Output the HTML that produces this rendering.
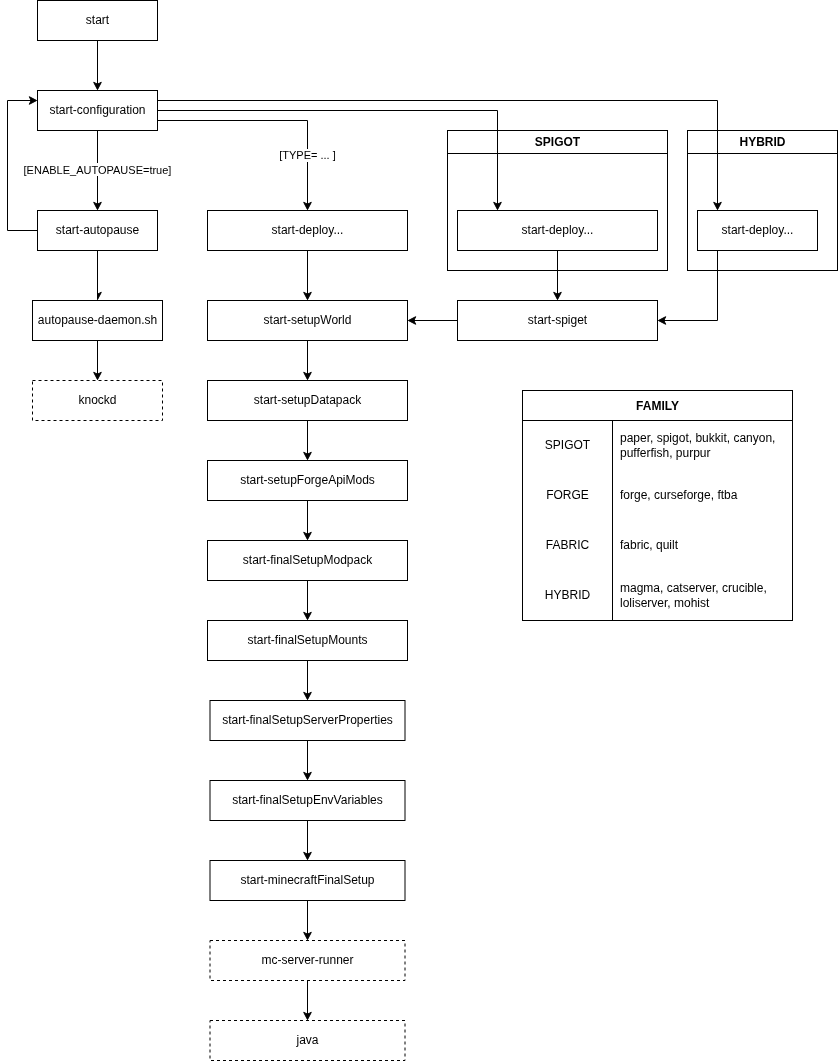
<!DOCTYPE html>
<html><head><meta charset="utf-8"><style>
html,body{margin:0;padding:0;background:#fff;width:838px;height:1061px;overflow:hidden}
svg{position:absolute;left:0;top:0;display:block;will-change:transform}
text{font-family:"Liberation Sans", sans-serif;font-size:12px;fill:#000}
</style></head><body>
<svg width="838" height="1061" viewBox="0 0 838 1061">
<defs><clipPath id="halfclip"><rect x="97" y="280" width="20" height="30"/></clipPath></defs>
<rect x="37.5" y="0.5" width="120.0" height="40.0" fill="#fff" stroke="#000"/>
<rect x="37.5" y="90.5" width="120.0" height="40.0" fill="#fff" stroke="#000"/>
<rect x="37.5" y="210.5" width="120.0" height="40.0" fill="#fff" stroke="#000"/>
<rect x="32.5" y="300.5" width="130.0" height="40.0" fill="#fff" stroke="#000"/>
<rect x="32.5" y="380.5" width="130.0" height="40.0" fill="#fff" stroke="#000" stroke-dasharray="3 3"/>
<rect x="207.5" y="210.5" width="200.0" height="40.0" fill="#fff" stroke="#000"/>
<rect x="207.5" y="300.5" width="200.0" height="40.0" fill="#fff" stroke="#000"/>
<rect x="207.5" y="380.5" width="200.0" height="40.0" fill="#fff" stroke="#000"/>
<rect x="207.5" y="460.5" width="200.0" height="40.0" fill="#fff" stroke="#000"/>
<rect x="207.5" y="540.5" width="200.0" height="40.0" fill="#fff" stroke="#000"/>
<rect x="207.5" y="620.5" width="200.0" height="40.0" fill="#fff" stroke="#000"/>
<rect x="210" y="700.5" width="195" height="40.0" fill="#fff" stroke="#000"/>
<rect x="210" y="780.5" width="195" height="40.0" fill="#fff" stroke="#000"/>
<rect x="210" y="860.5" width="195" height="40.0" fill="#fff" stroke="#000"/>
<rect x="210" y="940.5" width="195" height="40.0" fill="#fff" stroke="#000" stroke-dasharray="3 3"/>
<rect x="210" y="1020.5" width="195" height="40.0" fill="#fff" stroke="#000" stroke-dasharray="3 3"/>
<rect x="447.5" y="130.5" width="220.0" height="140.0" fill="#fff" stroke="#000"/>
<polyline points="447.5,153.5 667.5,153.5" fill="none" stroke="#000" stroke-miterlimit="10"/>
<rect x="687.5" y="130.5" width="150.0" height="140.0" fill="#fff" stroke="#000"/>
<polyline points="687.5,153.5 837.5,153.5" fill="none" stroke="#000" stroke-miterlimit="10"/>
<rect x="457.5" y="210.5" width="200.0" height="40.0" fill="#fff" stroke="#000"/>
<rect x="697.5" y="210.5" width="120.0" height="40.0" fill="#fff" stroke="#000"/>
<rect x="457.5" y="300.5" width="200.0" height="40.0" fill="#fff" stroke="#000"/>
<rect x="522.5" y="390.5" width="270.0" height="230.0" fill="#fff" stroke="#000"/>
<polyline points="522.5,420.5 792.5,420.5" fill="none" stroke="#000" stroke-miterlimit="10"/>
<polyline points="612.5,420.5 612.5,620.5" fill="none" stroke="#000" stroke-miterlimit="10"/>
<polyline points="97.5,40.5 97.5,88.9" fill="none" stroke="#000" stroke-miterlimit="10"/>
<path d="M97.500,89.600 L93.700,82.300 L97.500,84.125 L101.300,82.300 Z" fill="#000" stroke="#000" stroke-miterlimit="10"/>
<polyline points="97.5,130.5 97.5,208.9" fill="none" stroke="#000" stroke-miterlimit="10"/>
<path d="M97.500,209.600 L93.700,202.300 L97.500,204.125 L101.300,202.300 Z" fill="#000" stroke="#000" stroke-miterlimit="10"/>
<polyline points="37.5,230.5 7.5,230.5 7.5,100.5 35.9,100.5" fill="none" stroke="#000" stroke-miterlimit="10"/>
<path d="M36.600,100.500 L29.300,104.300 L31.125,100.500 L29.300,96.700 Z" fill="#000" stroke="#000" stroke-miterlimit="10"/>
<polyline points="97.5,250.5 97.5,298.9" fill="none" stroke="#000" stroke-miterlimit="10"/>
<path d="M97.500,299.600 L93.700,292.300 L97.500,294.125 L101.300,292.300 Z" fill="#000" stroke="#000" stroke-miterlimit="10" clip-path="url(#halfclip)"/>
<polyline points="97.5,340.5 97.5,378.9" fill="none" stroke="#000" stroke-miterlimit="10"/>
<path d="M97.500,379.600 L93.700,372.300 L97.500,374.125 L101.300,372.300 Z" fill="#000" stroke="#000" stroke-miterlimit="10"/>
<polyline points="157.5,100.5 717.5,100.5 717.5,208.9" fill="none" stroke="#000" stroke-miterlimit="10"/>
<path d="M717.500,209.600 L713.700,202.300 L717.500,204.125 L721.300,202.300 Z" fill="#000" stroke="#000" stroke-miterlimit="10"/>
<polyline points="157.5,110.5 497.5,110.5 497.5,208.9" fill="none" stroke="#000" stroke-miterlimit="10"/>
<path d="M497.500,209.600 L493.700,202.300 L497.500,204.125 L501.300,202.300 Z" fill="#000" stroke="#000" stroke-miterlimit="10"/>
<polyline points="157.5,120.5 307.5,120.5 307.5,208.9" fill="none" stroke="#000" stroke-miterlimit="10"/>
<path d="M307.500,209.600 L303.700,202.300 L307.500,204.125 L311.300,202.300 Z" fill="#000" stroke="#000" stroke-miterlimit="10"/>
<polyline points="307.5,250.5 307.5,298.9" fill="none" stroke="#000" stroke-miterlimit="10"/>
<path d="M307.500,299.600 L303.700,292.300 L307.500,294.125 L311.300,292.300 Z" fill="#000" stroke="#000" stroke-miterlimit="10"/>
<polyline points="557.5,250.5 557.5,298.9" fill="none" stroke="#000" stroke-miterlimit="10"/>
<path d="M557.500,299.600 L553.700,292.300 L557.500,294.125 L561.300,292.300 Z" fill="#000" stroke="#000" stroke-miterlimit="10"/>
<polyline points="717.5,250.5 717.5,320.5 659.1,320.5" fill="none" stroke="#000" stroke-miterlimit="10"/>
<path d="M658.400,320.500 L665.700,316.700 L663.875,320.500 L665.700,324.300 Z" fill="#000" stroke="#000" stroke-miterlimit="10"/>
<polyline points="457.5,320.5 409.1,320.5" fill="none" stroke="#000" stroke-miterlimit="10"/>
<path d="M408.400,320.500 L415.700,316.700 L413.875,320.500 L415.700,324.300 Z" fill="#000" stroke="#000" stroke-miterlimit="10"/>
<polyline points="307.5,340.5 307.5,378.9" fill="none" stroke="#000" stroke-miterlimit="10"/>
<path d="M307.500,379.600 L303.700,372.300 L307.500,374.125 L311.300,372.300 Z" fill="#000" stroke="#000" stroke-miterlimit="10"/>
<polyline points="307.5,420.5 307.5,458.9" fill="none" stroke="#000" stroke-miterlimit="10"/>
<path d="M307.500,459.600 L303.700,452.300 L307.500,454.125 L311.300,452.300 Z" fill="#000" stroke="#000" stroke-miterlimit="10"/>
<polyline points="307.5,500.5 307.5,538.9" fill="none" stroke="#000" stroke-miterlimit="10"/>
<path d="M307.500,539.600 L303.700,532.300 L307.500,534.125 L311.300,532.300 Z" fill="#000" stroke="#000" stroke-miterlimit="10"/>
<polyline points="307.5,580.5 307.5,618.9" fill="none" stroke="#000" stroke-miterlimit="10"/>
<path d="M307.500,619.600 L303.700,612.300 L307.500,614.125 L311.300,612.300 Z" fill="#000" stroke="#000" stroke-miterlimit="10"/>
<polyline points="307.5,660.5 307.5,698.9" fill="none" stroke="#000" stroke-miterlimit="10"/>
<path d="M307.500,699.600 L303.700,692.300 L307.500,694.125 L311.300,692.300 Z" fill="#000" stroke="#000" stroke-miterlimit="10"/>
<polyline points="307.5,740.5 307.5,778.9" fill="none" stroke="#000" stroke-miterlimit="10"/>
<path d="M307.500,779.600 L303.700,772.300 L307.500,774.125 L311.300,772.300 Z" fill="#000" stroke="#000" stroke-miterlimit="10"/>
<polyline points="307.5,820.5 307.5,858.9" fill="none" stroke="#000" stroke-miterlimit="10"/>
<path d="M307.500,859.600 L303.700,852.300 L307.500,854.125 L311.300,852.300 Z" fill="#000" stroke="#000" stroke-miterlimit="10"/>
<polyline points="307.5,900.5 307.5,938.9" fill="none" stroke="#000" stroke-miterlimit="10"/>
<path d="M307.500,939.600 L303.700,932.300 L307.500,934.125 L311.300,932.300 Z" fill="#000" stroke="#000" stroke-miterlimit="10"/>
<polyline points="307.5,980.5 307.5,1018.9" fill="none" stroke="#000" stroke-miterlimit="10"/>
<path d="M307.500,1019.600 L303.700,1012.300 L307.500,1014.125 L311.300,1012.300 Z" fill="#000" stroke="#000" stroke-miterlimit="10"/>
<rect x="23" y="163" width="149" height="13" fill="#fff"/>
<rect x="278" y="149" width="59" height="13" fill="#fff"/>
<text x="97.5" y="173.7" text-anchor="middle" style="font-size:11px">[ENABLE_AUTOPAUSE=true]</text>
<text x="307.5" y="158.7" text-anchor="middle" style="font-size:11px">[TYPE= ... ]</text>
<text x="97.5" y="23.5" text-anchor="middle">start</text>
<text x="97.5" y="113.5" text-anchor="middle">start-configuration</text>
<text x="97.5" y="233.5" text-anchor="middle">start-autopause</text>
<text x="97.5" y="323.5" text-anchor="middle">autopause-daemon.sh</text>
<text x="97.5" y="403.5" text-anchor="middle">knockd</text>
<text x="307.5" y="233.5" text-anchor="middle">start-deploy...</text>
<text x="307.5" y="323.5" text-anchor="middle">start-setupWorld</text>
<text x="307.5" y="403.5" text-anchor="middle">start-setupDatapack</text>
<text x="307.5" y="483.5" text-anchor="middle">start-setupForgeApiMods</text>
<text x="307.5" y="563.5" text-anchor="middle">start-finalSetupModpack</text>
<text x="307.5" y="643.5" text-anchor="middle">start-finalSetupMounts</text>
<text x="307.5" y="723.5" text-anchor="middle">start-finalSetupServerProperties</text>
<text x="307.5" y="803.5" text-anchor="middle">start-finalSetupEnvVariables</text>
<text x="307.5" y="883.5" text-anchor="middle">start-minecraftFinalSetup</text>
<text x="307.5" y="963.5" text-anchor="middle">mc-server-runner</text>
<text x="307.5" y="1043.5" text-anchor="middle">java</text>
<text x="557.5" y="146" text-anchor="middle" font-weight="bold">SPIGOT</text>
<text x="762.5" y="146" text-anchor="middle" font-weight="bold">HYBRID</text>
<text x="557.5" y="233.5" text-anchor="middle">start-deploy...</text>
<text x="757.5" y="233.5" text-anchor="middle">start-deploy...</text>
<text x="557.5" y="323.5" text-anchor="middle">start-spiget</text>
<text x="657.5" y="410" text-anchor="middle" font-weight="bold">FAMILY</text>
<text x="567.5" y="449" text-anchor="middle">SPIGOT</text>
<text x="620" y="442" text-anchor="start">paper, spigot, bukkit, canyon,</text>
<text x="620" y="457" text-anchor="start">pufferfish, purpur</text>
<text x="567.5" y="499" text-anchor="middle">FORGE</text>
<text x="620" y="499" text-anchor="start">forge, curseforge, ftba</text>
<text x="567.5" y="549" text-anchor="middle">FABRIC</text>
<text x="620" y="549" text-anchor="start">fabric, quilt</text>
<text x="567.5" y="599" text-anchor="middle">HYBRID</text>
<text x="620" y="592" text-anchor="start">magma, catserver, crucible,</text>
<text x="620" y="607" text-anchor="start">loliserver, mohist</text>
</svg>
</body></html>
